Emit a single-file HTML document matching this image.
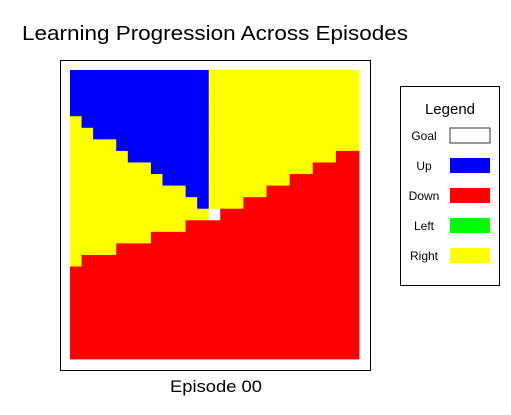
<!DOCTYPE html>
<html><head><meta charset="utf-8"><style>
body{margin:0;background:#fff;}
svg{display:block;font-family:"Comic Sans MS","Liberation Sans",sans-serif;}
</style></head><body>
<svg id="c" width="511" height="415" viewBox="0 0 511 415">
<text x="22" y="40" font-size="20" textLength="386" lengthAdjust="spacingAndGlyphs">Learning Progression Across Episodes</text>
<rect x="60.5" y="60.5" width="310" height="310" fill="#fff" stroke="#000" stroke-width="1"/>
<g id="grid"></g>
<text x="170" y="392" font-size="17" textLength="92" lengthAdjust="spacingAndGlyphs">Episode 00</text>
<g>
<rect x="400.5" y="86.5" width="99" height="199" fill="#fff" stroke="#000"/>
<text x="450" y="114" font-size="15" text-anchor="middle">Legend</text>
<g id="leg"></g>
</g>
</svg>
<script>
// policy grid rows (G=goal, U=up, D=down, L=left, R=right)
const gridRows = [
"UUUUUUUUUUUURRRRRRRRRRRRR",
"UUUUUUUUUUUURRRRRRRRRRRRR",
"UUUUUUUUUUUURRRRRRRRRRRRR",
"UUUUUUUUUUUURRRRRRRRRRRRR",
"RUUUUUUUUUUURRRRRRRRRRRRR",
"RRUUUUUUUUUURRRRRRRRRRRRR",
"RRRRUUUUUUUURRRRRRRRRRRRR",
"RRRRRUUUUUUURRRRRRRRRRRDD",
"RRRRRRRUUUUURRRRRRRRRDDDD",
"RRRRRRRRUUUURRRRRRRDDDDDD",
"RRRRRRRRRRUURRRRRDDDDDDDD",
"RRRRRRRRRRRURRRDDDDDDDDDD",
"RRRRRRRRRRRRGDDDDDDDDDDDD",
"RRRRRRRRRRDDDDDDDDDDDDDDD",
"RRRRRRRDDDDDDDDDDDDDDDDDD",
"RRRRDDDDDDDDDDDDDDDDDDDDD",
"RDDDDDDDDDDDDDDDDDDDDDDDD",
"DDDDDDDDDDDDDDDDDDDDDDDDD",
"DDDDDDDDDDDDDDDDDDDDDDDDD",
"DDDDDDDDDDDDDDDDDDDDDDDDD",
"DDDDDDDDDDDDDDDDDDDDDDDDD",
"DDDDDDDDDDDDDDDDDDDDDDDDD",
"DDDDDDDDDDDDDDDDDDDDDDDDD",
"DDDDDDDDDDDDDDDDDDDDDDDDD",
"DDDDDDDDDDDDDDDDDDDDDDDDD"
];
const actionKeys = ["G","U","D","L","R"];
const actionNames = ["Goal","Up","Down","Left","Right"];
const actionColors = ["#ffffff","#0000ff","#ff0000","#00ff00","#ffff00"];
const NS="http://www.w3.org/2000/svg";
const x0=70,y0=70,size=289,n=gridRows.length,cs=size/n;
const g=document.getElementById('grid');
gridRows.forEach((row,r)=>{
  for(let c=0;c<row.length;c++){
    const k=actionKeys.indexOf(row[c]);
    const el=document.createElementNS(NS,'rect');
    el.setAttribute('x',x0+c*cs);el.setAttribute('y',y0+r*cs);
    el.setAttribute('width',cs+0.4);el.setAttribute('height',cs+0.4);
    el.setAttribute('fill',actionColors[k]);
    
    
    g.appendChild(el);
  }
});
const leg=document.getElementById('leg');
actionNames.forEach((nm,i)=>{
  const y=128+i*30;
  const t=document.createElementNS(NS,'text');
  t.setAttribute('x',424);t.setAttribute('y',y+12);t.setAttribute('font-size',12);
  t.setAttribute('text-anchor','middle');t.textContent=nm;
  
  
  leg.appendChild(t);
  const s=document.createElementNS(NS,'rect');
  s.setAttribute('x',450);s.setAttribute('y',y);s.setAttribute('width',40);s.setAttribute('height',15);
  s.setAttribute('fill',actionColors[i]);
  if(i===0){s.setAttribute('stroke','#333');}
  
  
  leg.appendChild(s);
});
</script>
</body></html>
